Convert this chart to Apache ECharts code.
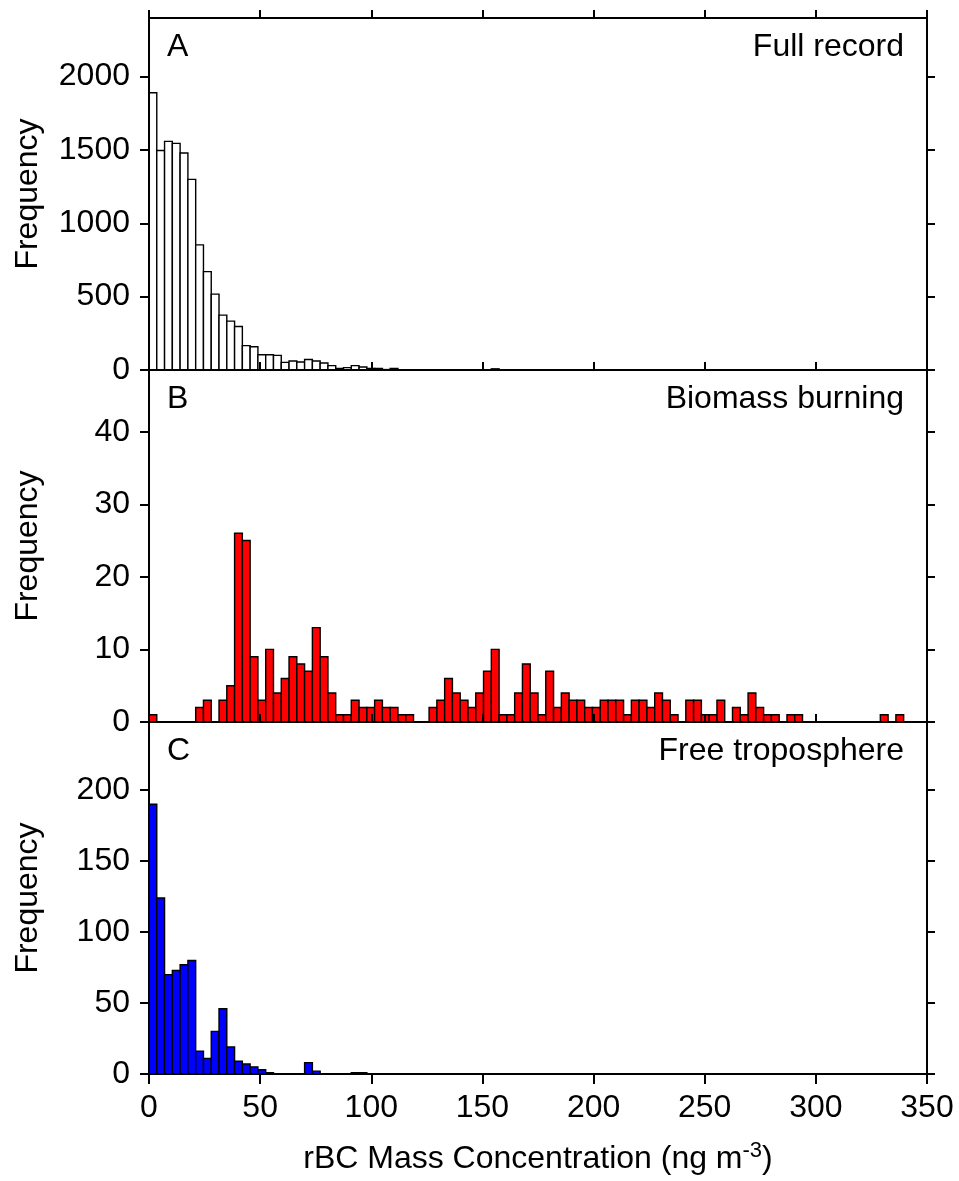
<!DOCTYPE html>
<html>
<head>
<meta charset="utf-8">
<script src="https://cdn.jsdelivr.net/npm/echarts@6/dist/echarts.min.js"></script>
<style>
  html, body { margin: 0; padding: 0; background: #fff; }
  #chart { width: 959px; height: 1181px; }
</style>
</head>
<body>
<div id="chart"></div>
<script>
// Histogram bins: 3.5 ng m-3 wide, starting at 0
const binWidth = 3.5;
const xMin = 0;
const xMax = 350;
const xTicks = [0, 50, 100, 150, 200, 250, 300, 350];

// A: full record (counts per bin)
const fullRecord = [
  1890, 1497, 1559, 1545, 1480, 1300, 853, 671, 517, 374,
  333, 297, 166, 159, 104, 104, 100, 52, 61, 55,
  72, 61, 48, 30, 11, 16, 30, 20, 11, 11,
  3, 10, 0, 0, 0, 0, 0, 0, 0, 0,
  0, 0, 0, 0, 8
];

// B: biomass burning (counts per bin)
const biomassBurning = [
  1, 0, 0, 0, 0, 0, 2, 3, 0, 3,
  5, 26, 25, 9, 3, 10, 4, 6, 9, 8,
  7, 13, 9, 4, 1, 1, 3, 2, 2, 3,
  2, 2, 1, 1, 0, 0, 2, 3, 6, 4,
  3, 2, 4, 7, 10, 1, 1, 4, 8, 4,
  1, 7, 2, 4, 3, 3, 2, 2, 3, 3,
  3, 1, 3, 3, 2, 4, 3, 1, 0, 3,
  3, 1, 1, 3, 0, 2, 1, 4, 2, 1,
  1, 0, 1, 1, 0, 0, 0, 0, 0, 0,
  0, 0, 0, 0, 1, 0, 1
];

// C: free troposphere (counts per bin)
const freeTroposphere = [
  190, 124, 70, 73, 77, 80, 16, 11, 30, 46,
  19, 9, 7, 5, 3, 1, 0, 0, 0, 0,
  8, 2, 0, 0, 0, 0, 1, 1
];

const panelNames = ['Full record', 'Biomass burning', 'Free troposphere'];
const panelLetters = ['A', 'B', 'C'];
const panelYMax = [2400, 48.5, 248];
const panelYTicks = [
  [0, 500, 1000, 1500, 2000],
  [0, 10, 20, 30, 40],
  [0, 50, 100, 150, 200]
];
const panelColors = ['#ffffff', '#ff0000', '#0000ff'];
const panelCounts = [fullRecord, biomassBurning, freeTroposphere];

const FONT = '"Liberation Sans", Arial, Helvetica, sans-serif';
const gridLeft = 149;
const gridWidth = 778;
const gridTops = [18, 370, 722];
const gridHeight = 352;

function toBins(counts) {
  const out = [];
  counts.forEach(function (c, i) {
    if (c > 0) out.push([i * binWidth, (i + 1) * binWidth, c]);
  });
  return out;
}

function renderBar(params, api) {
  const p0 = api.coord([api.value(0), api.value(2)]);
  const p1 = api.coord([api.value(1), 0]);
  return {
    type: 'rect',
    shape: { x: p0[0], y: p0[1], width: p1[0] - p0[0], height: p1[1] - p0[1] },
    style: { fill: api.visual('color'), stroke: '#000', lineWidth: 1.4 }
  };
}

const plainNumber = function (v) { return String(v); };
const axisLine = { show: true, onZero: false, lineStyle: { color: '#000', width: 2 } };

const grid = [], xAxis = [], yAxis = [], series = [], graphic = [];

for (let p = 0; p < 3; p++) {
  grid.push({ left: gridLeft, width: gridWidth, top: gridTops[p], height: gridHeight });
  const isLast = p === 2;
  // bottom x axis (drawn by the series)
  xAxis.push({
    type: 'value', gridIndex: p, position: 'bottom', min: xMin, max: xMax, z: 5,
    axisLine: axisLine,
    axisTick: { show: isLast, inside: false, length: 10, customValues: xTicks,
                lineStyle: { color: '#000', width: 2 } },
    axisLabel: { show: isLast, customValues: xTicks, margin: 18, color: '#000',
                 fontFamily: FONT, fontSize: 32, formatter: plainNumber },
    splitLine: { show: false }
  });
  // top x axis (ticks pointing outward)
  xAxis.push({
    type: 'value', gridIndex: p, position: 'top', min: xMin, max: xMax, z: 5,
    axisLine: axisLine,
    axisTick: { show: true, inside: false, length: 8, customValues: xTicks,
                lineStyle: { color: '#000', width: 2 } },
    axisLabel: { show: false },
    splitLine: { show: false }
  });
  yAxis.push({
    type: 'value', gridIndex: p, position: 'left', min: 0, max: panelYMax[p], z: 5,
    axisLine: axisLine,
    axisTick: { show: true, inside: false, length: 9, customValues: panelYTicks[p],
                lineStyle: { color: '#000', width: 2 } },
    axisLabel: { show: true, customValues: panelYTicks[p], margin: 19, color: '#000',
                 fontFamily: FONT, fontSize: 32, formatter: plainNumber },
    splitLine: { show: false }
  });
  yAxis.push({
    type: 'value', gridIndex: p, position: 'right', min: 0, max: panelYMax[p], z: 5,
    axisLine: axisLine,
    axisTick: { show: true, inside: false, length: 8, customValues: panelYTicks[p],
                lineStyle: { color: '#000', width: 2 } },
    axisLabel: { show: false },
    splitLine: { show: false }
  });
  series.push({
    type: 'custom',
    name: panelNames[p],
    xAxisIndex: p * 2,
    yAxisIndex: p * 2,
    renderItem: renderBar,
    itemStyle: { color: panelColors[p] },
    encode: { x: [0, 1], y: 2 },
    data: toBins(panelCounts[p]),
    z: 2,
    silent: true
  });
  const midY = gridTops[p] + gridHeight / 2;
  graphic.push({
    type: 'text', x: 28, y: midY, rotation: Math.PI / 2,
    style: { text: 'Frequency', font: '32px ' + FONT, fill: '#000',
             align: 'center', verticalAlign: 'middle' }
  });
  graphic.push({
    type: 'text', x: 167, y: gridTops[p] + 29,
    style: { text: panelLetters[p], font: '32px ' + FONT, fill: '#000',
             align: 'left', verticalAlign: 'middle' }
  });
  graphic.push({
    type: 'text', x: 904, y: gridTops[p] + 29,
    style: { text: panelNames[p], font: '32px ' + FONT, fill: '#000',
             align: 'right', verticalAlign: 'middle' }
  });
}

graphic.push({
  type: 'text', x: gridLeft + gridWidth / 2, y: 1159,
  style: {
    text: '{a|rBC Mass Concentration (ng m}{s|-3}{a|)}',
    align: 'center', verticalAlign: 'middle',
    rich: {
      a: { font: '32px ' + FONT, fill: '#000', lineHeight: 38 },
      s: { font: '22px ' + FONT, fill: '#000', verticalAlign: 'top', lineHeight: 38 }
    }
  }
});

const chart = echarts.init(document.getElementById('chart'), null, { renderer: 'canvas' });
chart.setOption({
  animation: false,
  backgroundColor: '#fff',
  grid: grid,
  xAxis: xAxis,
  yAxis: yAxis,
  series: series,
  graphic: graphic
});
</script>
</body>
</html>
